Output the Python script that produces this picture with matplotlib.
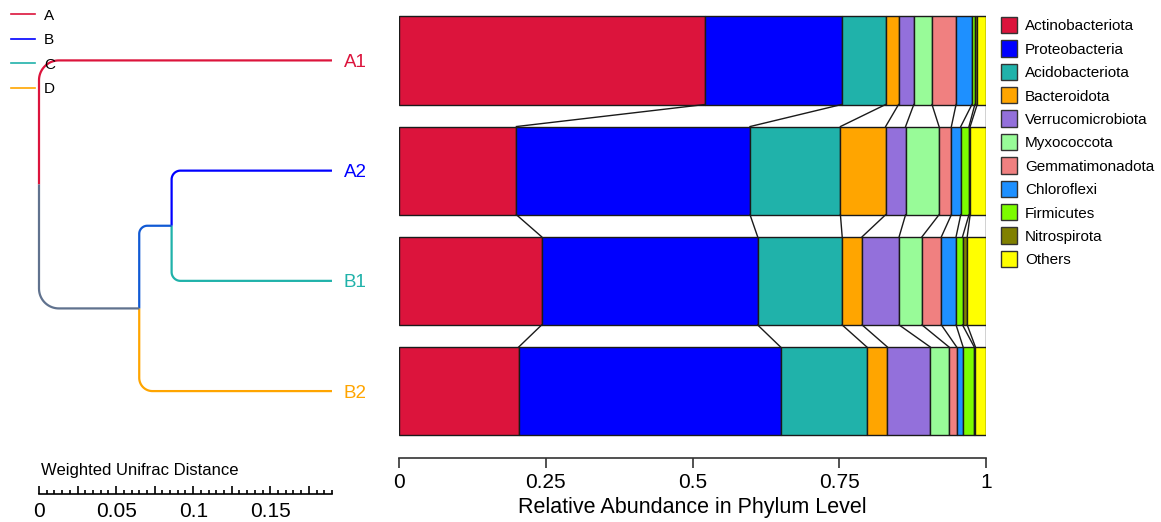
import matplotlib.pyplot as plt
import matplotlib.ticker as mticker
from matplotlib.patches import Rectangle
import numpy as np

plt.rcParams['font.family'] = ['Liberation Sans', 'DejaVu Sans']

# data
samples = ['A1', 'A2', 'B1', 'B2']
sample_colors = ['#DC143C', '#0000FF', '#20B2AA', '#FFA500']
phyla = ['Actinobacteriota', 'Proteobacteria', 'Acidobacteriota', 'Bacteroidota',
         'Verrucomicrobiota', 'Myxococcota', 'Gemmatimonadota', 'Chloroflexi',
         'Firmicutes', 'Nitrospirota', 'Others']
phylum_colors = ['#DC143C', '#0000FF', '#20B2AA', '#FFA500', '#9370DB', '#98FB98',
                 '#F08080', '#1E90FF', '#7CFC00', '#808000', '#FFFF00']
abund_A1 = [0.521, 0.233, 0.075, 0.022, 0.026, 0.031, 0.041, 0.027, 0.005, 0.004, 0.015]
abund_A2 = [0.200, 0.398, 0.154, 0.077, 0.034, 0.057, 0.021, 0.016, 0.014, 0.002, 0.027]
abund_B1 = [0.243, 0.368, 0.144, 0.034, 0.063, 0.039, 0.033, 0.025, 0.011, 0.008, 0.032]
abund_B2 = [0.204, 0.446, 0.147, 0.035, 0.073, 0.032, 0.013, 0.011, 0.019, 0.002, 0.018]

# tree: leaves at leaf_dist, merges (child1, child2, distance from root)
leaf_dist = 0.19
merges = [(1, 2, 0.086), (3, 'm0', 0.065), (0, 'm1', 0.0)]
group_names = ['A', 'B', 'C', 'D']
group_colors = ['#DC143C', '#0000FF', '#20B2AA', '#FFA500']

W, H = 1161, 522
fig = plt.figure(figsize=(W / 100, H / 100), dpi=100)

def px_box(x0, y0, x1, y1):
    return [x0 / W, 1 - y1 / H, (x1 - x0) / W, (y1 - y0) / H]

row_top, row_bot = 5.3, 446.2
ax = fig.add_axes(px_box(399, row_top, 986, row_bot))
axd = fig.add_axes(px_box(39, row_top, 39 + 0.19 * 1542, row_bot))
over = fig.add_axes([0, 0, 1, 1])
over.set_xlim(0, W)
over.set_ylim(H, 0)
over.axis('off')

# ---- stacked bars ----
data = np.array([abund_A1, abund_A2, abund_B1, abund_B2])
cum = np.cumsum(data, axis=1)
bh = 0.8
for i in range(len(samples)):
    left = 0
    for j in range(len(phyla)):
        ax.barh(i, data[i, j], left=left, height=bh, color=phylum_colors[j],
                edgecolor='#1a1a1a', linewidth=1.0)
        left += data[i, j]
for i in range(len(samples) - 1):
    for k in range(len(phyla)):
        ax.plot([cum[i, k], cum[i + 1, k]], [i + bh / 2, i + 1 - bh / 2],
                color='#1a1a1a', lw=1.0)

ax.set_xlim(0, 1)
ax.set_ylim(len(samples) - 0.5, -0.5)
for s in ['top', 'right', 'left']:
    ax.spines[s].set_visible(False)
ax.spines['bottom'].set_position(('outward', 8.6))
ax.spines['bottom'].set_color('#333333')
ax.spines['bottom'].set_linewidth(1.2)
ax.set_yticks([])
ax.set_xticks([0, 0.25, 0.5, 0.75, 1])
ax.set_xticklabels(['0', '0.25', '0.5', '0.75', '1'])
ax.tick_params(axis='x', length=7.5, width=1.2, color='#333333', labelsize=15, pad=3.5)
fig.text(692.5 / W, 1 - 507 / H, 'Relative Abundance in Phylum Level',
         ha='center', va='center', fontsize=15.5)

# ---- dendrogram ----
nodes = {}
for i, name in enumerate(samples):
    rgb = np.array(plt.matplotlib.colors.to_rgb(sample_colors[i]))
    nodes[i] = dict(x=leaf_dist, y=i, rgb=rgb, n=1)

sx = 1542
sy = (row_bot - row_top) / len(samples)

def branch(xn, yn, c):
    dv = abs(c['y'] - yn) * sy
    dh = (c['x'] - xn) * sx
    r = min(0.16 * dv, 0.25 * dh)
    rx, ry = r / sx, r / sy
    s = np.sign(c['y'] - yn)
    t = np.linspace(0, np.pi / 2, 20)
    xs = np.concatenate([[xn], xn + rx - rx * np.cos(t), [c['x']]])
    ys = np.concatenate([[yn], c['y'] - s * ry + s * ry * np.sin(t), [c['y']]])
    axd.plot(xs, ys, color=c['rgb'], lw=1.6, solid_capstyle='butt', clip_on=False)

for m, (a, b, d) in enumerate(merges):
    ca, cb = nodes[a], nodes[b]
    yn = (ca['y'] + cb['y']) / 2
    n = ca['n'] + cb['n']
    rgb = (ca['rgb'] * ca['n'] + cb['rgb'] * cb['n']) / n
    branch(d, yn, ca)
    branch(d, yn, cb)
    nodes['m%d' % m] = dict(x=d, y=yn, rgb=rgb, n=n)

for i, name in enumerate(samples):
    axd.annotate(name, (leaf_dist, i), xytext=(8.6, 0), textcoords='offset points',
                 va='center_baseline', ha='left', color=sample_colors[i], fontsize=13.5,
                 annotation_clip=False)

axd.set_xlim(0, 0.19)
axd.set_ylim(len(samples) - 0.5, -0.5)
for s in ['top', 'right', 'left']:
    axd.spines[s].set_visible(False)
axd.spines['bottom'].set_position(('outward', 34.5))
axd.spines['bottom'].set_linewidth(1.2)
axd.set_yticks([])
axd.xaxis.set_major_locator(mticker.MultipleLocator(0.025))
axd.xaxis.set_minor_locator(mticker.MultipleLocator(0.005))
axd.xaxis.set_major_formatter(mticker.FuncFormatter(
    lambda v, p: ('%g' % round(v, 3)) if abs(round(v / 0.05) * 0.05 - v) < 1e-9 else ''))
axd.tick_params(axis='x', which='major', direction='in', length=6, width=1.2,
                labelsize=15, pad=5.5)
axd.tick_params(axis='x', which='minor', direction='in', length=3.2, width=1.2)
fig.text(41 / W, 1 - 470 / H, 'Weighted Unifrac Distance', ha='left', va='center',
         fontsize=12)

# ---- left legend (groups) ----
for i, (g, c) in enumerate(zip(group_names, group_colors)):
    yy = 14.3 + i * 24.5
    over.plot([11, 35], [yy, yy], color=c, lw=1.2)
    over.text(44, yy, g, va='center_baseline', ha='left', fontsize=11)

# ---- right legend (phyla) ----
for i, (p, c) in enumerate(zip(phyla, phylum_colors)):
    yy = 25 + i * 23.4
    over.add_patch(Rectangle((1000.5, yy - 8.2), 16.5, 16.4, facecolor=c,
                             edgecolor='#333333', lw=1.0))
    over.text(1025, yy, p, va='center_baseline', ha='left', fontsize=11)

fig.savefig('out.png', dpi=100)
